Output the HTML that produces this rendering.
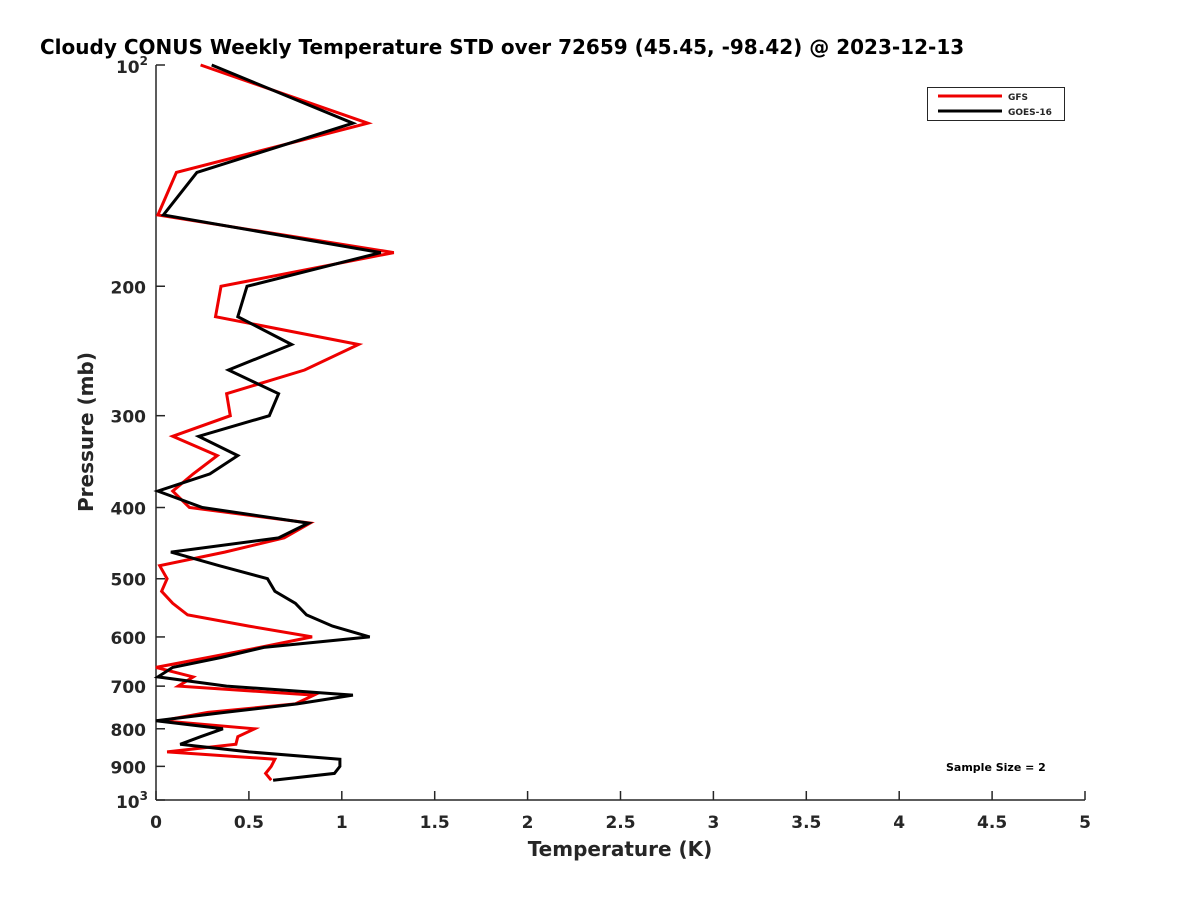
<!DOCTYPE html>
<html><head><meta charset="utf-8"><style>
body{margin:0;background:#fff;}
svg text{font-family:"DejaVu Sans","Liberation Sans",sans-serif;font-weight:bold;fill:#262626;}
</style></head><body>
<svg id="chart" width="1200" height="900" viewBox="0 0 1200 900" xmlns="http://www.w3.org/2000/svg">
<rect width="1200" height="900" fill="#fff"/>
<text x="40" y="54" font-size="20" style="fill:#000">Cloudy CONUS Weekly Temperature STD over 72659 (45.45, -98.42) @ 2023-12-13</text>
<g id="axes"></g>
<g id="series"></g>
<text x="620" y="856" font-size="20" text-anchor="middle">Temperature (K)</text>
<text x="0" y="0" font-size="20" text-anchor="middle" transform="translate(93,432) rotate(-90)">Pressure (mb)</text>
<g>
<rect x="927.5" y="87.5" width="137" height="33" fill="#fff" stroke="#262626" stroke-width="1"/>
<line x1="938" y1="96" x2="1002" y2="96" stroke="#e00" stroke-width="3"/>
<text x="1008" y="100" font-size="9">GFS</text>
<line x1="938" y1="111" x2="1002" y2="111" stroke="#000" stroke-width="3"/>
<text x="1008" y="115" font-size="9">GOES-16</text>
</g>
<text x="946" y="771" font-size="11" style="fill:#000">Sample Size = 2</text>
</svg>
<script>
const pressures=[100,120,140,160,180,200,220,240,260,280,300,320,340,360,380,400,420,440,460,480,500,520,540,560,580,600,620,640,660,680,700,720,740,760,780,800,820,840,860,880,900,920,940];
const gfsStd=[0.24,1.14,0.11,0.01,1.28,0.35,0.32,1.09,0.80,0.38,0.40,0.09,0.33,0.20,0.09,0.18,0.83,0.69,0.37,0.02,0.06,0.03,0.09,0.17,0.50,0.84,0.56,0.28,0,0.20,0.12,0.85,0.75,0.28,0.03,0.53,0.44,0.43,0.06,0.64,0.62,0.59,0.62];
const goesStd=[0.30,1.06,0.22,0.04,1.21,0.49,0.44,0.73,0.39,0.66,0.61,0.23,0.44,0.29,0.01,0.25,0.82,0.66,0.08,0.34,0.60,0.64,0.75,0.81,0.95,1.15,0.58,0.35,0.09,0.01,0.38,1.06,0.76,0.37,0,0.36,0.24,0.13,0.50,0.99,0.99,0.96,0.63];
const xTicks=[0,0.5,1,1.5,2,2.5,3,3.5,4,4.5,5];
const xTickLabels=["0","0.5","1","1.5","2","2.5","3","3.5","4","4.5","5"];
const yTicks=[200,300,400,500,600,700,800,900];
const X0=156,X1=1085,Y0=65,Y1=800;
const xs=v=>X0+(v/5)*(X1-X0);
const ys=p=>Y0+(Math.log10(p)-2)*(Y1-Y0);
const NS="http://www.w3.org/2000/svg";
function mk(t,a,parent){const e=document.createElementNS(NS,t);for(const k in a)e.setAttribute(k,a[k]);parent.appendChild(e);return e;}
const ax=document.getElementById('axes');
let l=mk('line',{x1:X0,y1:Y0,x2:X0,y2:Y1,stroke:'#262626','stroke-width':1.5},ax);


l=mk('line',{x1:X0,y1:Y1,x2:X1,y2:Y1,stroke:'#262626','stroke-width':1.5},ax);


xTicks.forEach((v,i)=>{
 const t=mk('line',{x1:xs(v),y1:Y1,x2:xs(v),y2:Y1-9,stroke:'#262626','stroke-width':1.5},ax);
 
 
 const tx=mk('text',{x:xs(v),y:Y1+28,'font-size':17,'text-anchor':'middle'},ax);
 tx.textContent=xTickLabels[i];
 
 
});
[100].concat(yTicks,[1000]).forEach(p=>{
 const t=mk('line',{x1:X0,y1:ys(p),x2:X0+9,y2:ys(p),stroke:'#262626','stroke-width':1.5},ax);
 
 
});
yTicks.forEach(p=>{
 const tx=mk('text',{x:X0-10,y:ys(p)+7,'font-size':17,'text-anchor':'end'},ax);
 tx.textContent=String(p);
 
 
});
[[100,'2'],[1000,'3']].forEach(([p,e])=>{
 const tx=mk('text',{x:X0-8,y:ys(p)+8,'font-size':17,'text-anchor':'end'},ax);
 tx.innerHTML='10<tspan font-size="12" dy="-8">'+e+'</tspan>';
 
 
});
const sg=document.getElementById('series');
function draw(vals,color,name){
 const pts=vals.map((v,i)=>xs(v).toFixed(1)+','+ys(pressures[i]).toFixed(1)).join(' ');
 const pl=mk('polyline',{points:pts,fill:'none',stroke:color,'stroke-width':3,'stroke-linejoin':'miter'},sg);
 
 
}
draw(gfsStd,'#e00','gfs-line');
draw(goesStd,'#000','goes16-line');
</script>
</body></html>
